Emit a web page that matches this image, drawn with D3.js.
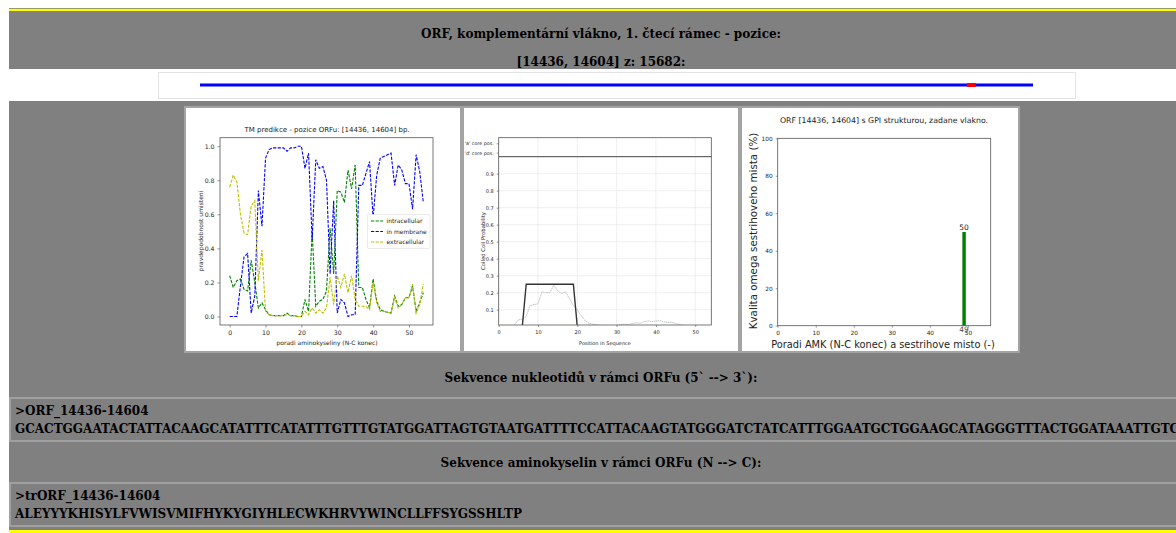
<!DOCTYPE html>
<html>
<head>
<meta charset="utf-8">
<script src="https://cdn.jsdelivr.net/npm/d3@7"></script>
<style>
  body { margin: 0; background: #fff; overflow: hidden; }
  svg { display: block; }
  .serif { font-family: "DejaVu Serif", serif; font-weight: bold; fill: #000; }
  .mpl { font-family: "DejaVu Sans", sans-serif; fill: #222; }
</style>
</head>
<body>
<svg id="page" width="1176" height="533"></svg>
<script>
// ---- report texts ----
const headingLines = ["ORF, komplementární vlákno, 1. čtecí rámec - pozice:", "[14436, 14604] z: 15682:"];
const orfStart = 14436;
const orfEnd = 14604;
const genomeLength = 15682;
const nucleotideTitle = "Sekvence nukleotidů v rámci ORFu (5` --> 3`):";
const nucleotideHeader = ">ORF_14436-14604";
const nucleotideSeq = "GCACTGGAATACTATTACAAGCATATTTCATATTTGTTTGTATGGATTAGTGTAATGATTTTCCATTACAAGTATGGGATCTATCATTTGGAATGCTGGAAGCATAGGGTTTACTGGATAAATTGTC";
const proteinTitle = "Sekvence aminokyselin v rámci ORFu (N --> C):";
const proteinHeader = ">trORF_14436-14604";
const proteinSeq = "ALEYYYKHISYLFVWISVMIFHYKYGIYHLECWKHRVYWINCLLFFSYGSSHLTP";

// ---- TM prediction (per residue probabilities) ----
const tmPositions = [0,1,2,3,4,5,6,7,8,9,10,11,12,13,14,15,16,17,18,19,20,21,22,23,24,25,26,27,28,29,30,31,32,33,34,35,36,37,38,39,40,41,42,43,44,45,46,47,48,49,50,51,52,53,54];
const intracellular = [0.24,0.17,0.21,0.22,0.16,0.15,0.33,0.20,0.05,0.08,0.04,0.01,0.005,0.005,0.005,0.005,0.02,0.005,0.005,0.0,0.0,0.10,0.03,0.50,0.06,0.09,0.10,0.15,0.52,0.25,0.74,0.73,0.67,0.86,0.75,0.89,0.17,0.17,0.10,0.05,0.22,0.09,0.04,0.03,0.025,0.02,0.12,0.06,0.07,0.11,0.11,0.18,0.03,0.08,0.14];
const inMembrane = [0.0,0.0,0.0,0.18,0.35,0.37,0.02,0.12,0.74,0.53,0.93,0.98,0.99,0.99,0.99,0.99,0.97,0.99,0.99,1.0,1.0,0.87,0.96,0.45,0.92,0.87,0.88,0.80,0.25,0.68,0.02,0.10,0.08,0.0,0.01,0.01,0.77,0.77,0.84,0.91,0.58,0.83,0.93,0.94,0.95,0.96,0.77,0.89,0.86,0.78,0.78,0.63,0.95,0.85,0.67];
const extracellular = [0.76,0.83,0.79,0.60,0.49,0.48,0.65,0.68,0.21,0.39,0.03,0.01,0.005,0.005,0.005,0.005,0.01,0.005,0.005,0.0,0.0,0.03,0.01,0.05,0.02,0.04,0.02,0.05,0.23,0.07,0.24,0.17,0.25,0.14,0.24,0.10,0.06,0.06,0.06,0.04,0.20,0.08,0.03,0.03,0.025,0.02,0.11,0.05,0.07,0.11,0.11,0.19,0.02,0.07,0.19];
const tmSeriesNames = ["intracellular", "in membrane", "extracellular"];
const tmXTicks = [0,10,20,30,40,50];
const tmYTicks = [0.0,0.2,0.4,0.6,0.8,1.0];

// ---- coiled coil prediction ----
const coilPositions = [1,2,3,4,5,6,7,8,9,10,11,12,13,14,15,16,17,18,19,20,21,22,23,24,25,26,27,28,29,30,31,32,33,34,35,36,37,38,39,40,41,42,43,44,45,46,47,48,49,50,51,52,53,54];
const coilProbability = [0,0,0,0.01,0.04,0.045,0.06,0.125,0.13,0.135,0.205,0.2,0.2,0.244,0.21,0.195,0.205,0.165,0.125,0.1,0.065,0.035,0.02,0.015,0.01,0.008,0.006,0.005,0.005,0.008,0.013,0.014,0.012,0.018,0.023,0.02,0.03,0.034,0.03,0.033,0.036,0.028,0.025,0.026,0.018,0.012,0.008,0,0,0,0,0,0,0];
const coilWindowX = [6,7,19,20];
const coilWindowY = [0,0.25,0.25,0];
const coreLabels = ["'a' core pos.", "'d' core pos."];
const coilXTicks = [0,10,20,30,40,50];
const coilYTicks = [0.1,0.2,0.3,0.4,0.5,0.6,0.7,0.8,0.9];

// ---- GPI omega site ----
const gpiSites = [49];
const gpiQuality = [50];
const gpiXTicks = [0,10,20,30,40,50];
const gpiYTicks = [0,20,40,60,80,100];

const svg = d3.select("#page");
const W = 1176, H = 533;
const centerX = 601;
const serifSize = 12;

// page frame
svg.append("rect").attr("x", 0).attr("y", 0).attr("width", W).attr("height", H).attr("fill", "#fff");
svg.append("rect").attr("x", 9).attr("y", 11).attr("width", W - 9).attr("height", 519).attr("fill", "#808080");
svg.append("rect").attr("x", 9).attr("y", 8).attr("width", W - 9).attr("height", 1).attr("fill", "#9a9a60");
svg.append("rect").attr("x", 9).attr("y", 9).attr("width", W - 9).attr("height", 2).attr("fill", "#ffff00");
svg.append("rect").attr("x", 9).attr("y", 530).attr("width", W - 9).attr("height", 3).attr("fill", "#ffff00");

// headings
headingLines.forEach((t, i) => {
  svg.append("text").attr("class", "serif").attr("x", centerX).attr("y", 37.5 + i * 28)
    .attr("text-anchor", "middle").attr("font-size", serifSize).text(t);
});

// genome position strip
svg.append("rect").attr("x", 9).attr("y", 69).attr("width", W - 9).attr("height", 32).attr("fill", "#fff");
svg.append("rect").attr("x", 158.5).attr("y", 72.5).attr("width", 917).attr("height", 26)
  .attr("fill", "#fff").attr("stroke", "#e4e4e4");
const genomeScale = d3.scaleLinear().domain([0, genomeLength]).range([200, 1033]);
svg.append("line").attr("x1", genomeScale(0)).attr("x2", genomeScale(genomeLength))
  .attr("y1", 85).attr("y2", 85).attr("stroke", "#0000ff").attr("stroke-width", 3);
svg.append("rect").attr("x", genomeScale(orfStart)).attr("y", 83)
  .attr("width", genomeScale(orfEnd) - genomeScale(orfStart)).attr("height", 4).attr("fill", "#ff0000");

// figure panels
const panels = [{x: 184, w: 278}, {x: 462, w: 278}, {x: 740, w: 280}];
panels.forEach(p => {
  svg.append("rect").attr("x", p.x + 1).attr("y", 107).attr("width", p.w - 2).attr("height", 245)
    .attr("fill", "#fff").attr("stroke", "#a3a3a3").attr("stroke-width", 2);
});

function txt(g, x, y, s, size, anchor, extra) {
  const t = g.append("text").attr("class", "mpl").attr("x", x).attr("y", y)
    .attr("font-size", size).attr("text-anchor", anchor || "middle").text(s);
  if (extra) extra(t);
  return t;
}

// ---- panel 1: TM prediction ----
(function () {
  const g = svg.append("g");
  const x = d3.scaleLinear().domain([-2.7, 56.7]).range([220, 433]);
  const y = d3.scaleLinear().domain([-0.05, 1.05]).range([325, 137.7]);
  g.append("rect").attr("x", 220).attr("y", 137.7).attr("width", 213).attr("height", 187.3)
    .attr("fill", "none").attr("stroke", "#555").attr("stroke-width", 0.8);
  const xa = g.append("g").attr("transform", "translate(0,325)")
    .call(d3.axisBottom(x).tickValues(tmXTicks).tickSize(2.5).tickFormat(d3.format("d")));
  const ya = g.append("g").attr("transform", "translate(220,0)")
    .call(d3.axisLeft(y).tickValues(tmYTicks).tickSize(2.5).tickFormat(d3.format(".1f")));
  [xa, ya].forEach(a => {
    a.select(".domain").remove();
    a.selectAll("line").attr("stroke", "#555").attr("stroke-width", 0.6);
    a.selectAll("text").attr("class", "mpl").attr("font-size", 6.2).attr("fill", "#333");
  });
  const series = [
    {vals: intracellular, color: "#008000"},
    {vals: inMembrane, color: "#0000ff"},
    {vals: extracellular, color: "#bfbf00"}
  ];
  const line = d3.line().x((d, i) => x(tmPositions[i])).y(d => y(d));
  series.forEach(s => {
    g.append("path").datum(s.vals).attr("d", line).attr("fill", "none")
      .attr("stroke", s.color).attr("stroke-width", 1.1).attr("stroke-dasharray", "3.2,1.4");
  });
  txt(g, 327, 132, "TM predikce - pozice ORFu: [14436, 14604] bp.", 7);
  txt(g, 327, 345, "poradi aminokyseliny (N-C konec)", 6);
  txt(g, 0, 0, "pravdepodobnost umisteni", 6, "middle", t => t.attr("transform", "translate(203,231) rotate(-90)"));
  // legend
  g.append("rect").attr("x", 367.5).attr("y", 214.5).attr("width", 62.5).attr("height", 34).attr("rx", 1.5)
    .attr("fill", "#fff").attr("stroke", "#ddd").attr("stroke-width", 0.6);
  series.forEach((s, i) => {
    const yy = 221 + i * 10.5;
    g.append("line").attr("x1", 371).attr("x2", 383).attr("y1", yy).attr("y2", yy)
      .attr("stroke", s.color).attr("stroke-width", 1.1).attr("stroke-dasharray", "3.2,1.4");
    txt(g, 386.5, yy + 2, tmSeriesNames[i], 6, "start");
  });
})();

// ---- panel 2: coiled coil ----
(function () {
  const g = svg.append("g");
  const x = d3.scaleLinear().domain([0, 54.1]).range([498.7, 711.3]);
  const y = d3.scaleLinear().domain([0.01, 1.0]).range([325, 156.7]);
  const gridG = g.append("g");
  coilXTicks.slice(1).forEach(v => {
    gridG.append("line").attr("x1", x(v)).attr("x2", x(v)).attr("y1", 137.7).attr("y2", 325)
      .attr("stroke", "#ccc").attr("stroke-width", 0.6).attr("stroke-dasharray", "1,1");
  });
  coilYTicks.forEach(v => {
    gridG.append("line").attr("x1", 498.7).attr("x2", 711.3).attr("y1", y(v)).attr("y2", y(v))
      .attr("stroke", "#ccc").attr("stroke-width", 0.6).attr("stroke-dasharray", "1,1");
  });
  g.append("defs").append("clipPath").attr("id", "coilClip").append("rect")
    .attr("x", 498.7).attr("y", 156.7).attr("width", 212.6).attr("height", 168.3);
  const pg = g.append("g").attr("clip-path", "url(#coilClip)");
  const probLine = d3.line().x((d, i) => x(coilPositions[i])).y(d => y(d));
  pg.append("path").datum(coilProbability).attr("d", probLine).attr("fill", "none")
    .attr("stroke", "#aaa").attr("stroke-width", 0.7).attr("stroke-dasharray", "1.5,0.6");
  const winLine = d3.line().x((d, i) => x(coilWindowX[i])).y(d => y(d));
  pg.append("path").datum(coilWindowY).attr("d", winLine).attr("fill", "none")
    .attr("stroke", "#333").attr("stroke-width", 1.4);
  g.append("rect").attr("x", 498.7).attr("y", 137.7).attr("width", 212.6).attr("height", 187.3)
    .attr("fill", "none").attr("stroke", "#555").attr("stroke-width", 0.8);
  g.append("line").attr("x1", 498.7).attr("x2", 711.3).attr("y1", 156.7).attr("y2", 156.7)
    .attr("stroke", "#444").attr("stroke-width", 1);
  const xa = g.append("g").attr("transform", "translate(0,325)")
    .call(d3.axisBottom(x).tickValues(coilXTicks).tickSize(2).tickFormat(d3.format("d")));
  const ya = g.append("g").attr("transform", "translate(498.7,0)")
    .call(d3.axisLeft(y).tickValues(coilYTicks).tickSize(2).tickFormat(d3.format(".1f")));
  [xa, ya].forEach(a => {
    a.select(".domain").remove();
    a.selectAll("line").attr("stroke", "#555").attr("stroke-width", 0.6);
    a.selectAll("text").attr("class", "mpl").attr("font-size", 5).attr("fill", "#333");
  });
  const coreY = d3.scalePoint().domain(coreLabels).range([143.3, 152.7]);
  const ca = g.append("g").attr("transform", "translate(498.7,0)")
    .call(d3.axisLeft(coreY).tickSize(2));
  ca.select(".domain").remove();
  ca.selectAll("line").attr("stroke", "#555").attr("stroke-width", 0.6);
  ca.selectAll("text").attr("class", "mpl").attr("font-size", 4.8).attr("fill", "#333");
  txt(g, 605, 344.5, "Position in Sequence", 5);
  txt(g, 0, 0, "Coiled Coil Probability", 5.3, "middle", t => t.attr("transform", "translate(485,241) rotate(-90)"));
})();

// ---- panel 3: GPI omega site ----
(function () {
  const g = svg.append("g");
  const x = d3.scaleLinear().domain([0, 56]).range([777.7, 990.7]);
  const y = d3.scaleLinear().domain([0, 100]).range([325.7, 138.3]);
  g.append("rect").attr("x", 777.7).attr("y", 138.3).attr("width", 213).attr("height", 187.4)
    .attr("fill", "none").attr("stroke", "#555").attr("stroke-width", 0.8);
  const xa = g.append("g").attr("transform", "translate(0,325.7)")
    .call(d3.axisBottom(x).tickValues(gpiXTicks).tickSize(2).tickFormat(d3.format("d")));
  const ya = g.append("g").attr("transform", "translate(777.7,0)")
    .call(d3.axisLeft(y).tickValues(gpiYTicks).tickSize(2).tickFormat(d3.format("d")));
  [xa, ya].forEach(a => {
    a.select(".domain").remove();
    a.selectAll("line").attr("stroke", "#555").attr("stroke-width", 0.6);
    a.selectAll("text").attr("class", "mpl").attr("font-size", 5.8).attr("fill", "#333");
  });
  const bw = 0.9;
  g.selectAll("rect.bar").data(gpiSites).join("rect").attr("class", "bar")
    .attr("x", d => x(d - bw / 2)).attr("width", x(bw) - x(0))
    .attr("y", (d, i) => y(gpiQuality[i])).attr("height", (d, i) => y(0) - y(gpiQuality[i]))
    .attr("fill", "#008000");
  gpiSites.forEach((s, i) => {
    txt(g, x(s), y(gpiQuality[i]) - 2, String(gpiQuality[i]), 7.5, "middle", t => t.attr("fill", "#000"));
    txt(g, x(s), 332, String(s), 7.5, "middle", t => t.attr("fill", "#ff0000").attr("fill-opacity", 0.85));
  });
  txt(g, 884, 123, "ORF [14436, 14604] s GPI strukturou, zadane vlakno.", 7.8);
  txt(g, 883, 348, "Poradi AMK (N-C konec) a sestrihove misto (-)", 9.8);
  txt(g, 0, 0, "Kvalita omega sestrihoveho mista (%)", 10.3, "middle", t => t.attr("transform", "translate(757,231) rotate(-90)"));
})();

// sequence sections
function seqBlock(titleY, title, boxY, header, seq) {
  svg.append("text").attr("class", "serif").attr("x", centerX).attr("y", titleY)
    .attr("text-anchor", "middle").attr("font-size", serifSize).text(title);
  svg.append("rect").attr("x", 10).attr("y", boxY).attr("width", W).attr("height", 43)
    .attr("fill", "#808080").attr("stroke", "#a0a0a0").attr("stroke-width", 2);
  svg.append("text").attr("class", "serif").attr("x", 15).attr("y", boxY + 17)
    .attr("font-size", serifSize).text(header);
  svg.append("text").attr("class", "serif").attr("x", 15).attr("y", boxY + 34.5)
    .attr("font-size", serifSize).text(seq);
}
seqBlock(381.5, nucleotideTitle, 398, nucleotideHeader, nucleotideSeq);
seqBlock(466.5, proteinTitle, 483, proteinHeader, proteinSeq);
</script>
</body>
</html>
